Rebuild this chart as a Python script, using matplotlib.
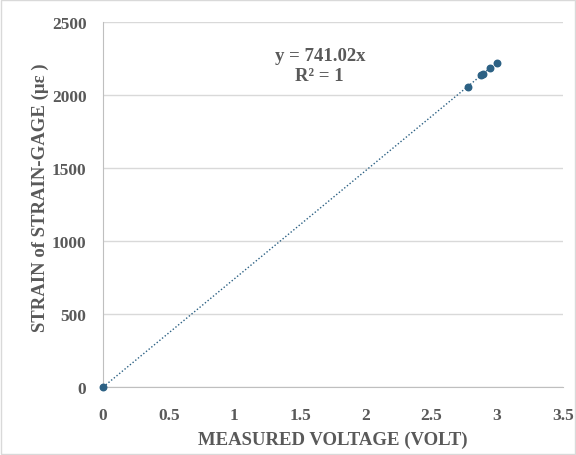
import matplotlib.pyplot as plt
import numpy as np

# Datos
voltage = [0.0, 2.775, 2.881, 2.893, 2.945, 2.996]
slope = 741.02
strain = [round(slope * v, 1) for v in voltage]

x_ticks = [0, 0.5, 1, 1.5, 2, 2.5, 3, 3.5]
x_labels = ["0", "0.5", "1", "1.5", "2", "2.5", "3", "3.5"]
y_ticks = [0, 500, 1000, 1500, 2000, 2500]

plt.rcParams['font.family'] = ['Liberation Serif', 'DejaVu Serif']
txt = "#595959"
col = "#2C6184"

fig = plt.figure(figsize=(5.76, 4.56), dpi=100)
ax = fig.add_axes([0.179, 0.149, 0.798, 0.801])

# línea de tendencia
xt = np.array([0, max(voltage)])
ax.plot(xt, slope * xt, linestyle=(0, (1, 1.5)), color=col, linewidth=1.0, zorder=2)
ax.scatter(voltage, strain, s=22, color=col, zorder=3, clip_on=False)

ax.set_xlim(0, 3.5)
ax.set_ylim(0, 2500)
ax.set_xticks(x_ticks)
ax.set_xticklabels(x_labels)
ax.set_yticks(y_ticks)
ax.grid(axis="y", color="#d9d9d9", linewidth=1)
ax.set_axisbelow(True)
for s in ["top", "right"]:
    ax.spines[s].set_visible(False)
for s in ["left", "bottom"]:
    ax.spines[s].set_color("#bfbfbf")
ax.tick_params(length=0, labelsize=12.5, colors=txt)
ax.tick_params(axis="x", pad=14)
ax.tick_params(axis="y", pad=12)
for lab in ax.get_xticklabels() + ax.get_yticklabels():
    lab.set_fontweight("bold")

ax.set_xlabel("MEASURED VOLTAGE (VOLT)", fontsize=13.5, fontweight="bold", color=txt, labelpad=6)
ax.set_ylabel("STRAIN of STRAIN-GAGE (με )", fontsize=13.5, fontweight="bold", color=txt)
ax.yaxis.set_label_coords(-0.117, 0.52)

ax.text(1.65, 2200, "y = 741.02x\nR² = 1", ha="center", va="center",
        fontsize=13.5, fontweight="bold", color=txt, linespacing=1.2)

# borde del gráfico
fig.patches.append(plt.Rectangle((0.002, 0.002), 0.996, 0.996, transform=fig.transFigure,
                                 fill=False, edgecolor="#d9d9d9", linewidth=1))

fig.savefig("out.png", dpi=100)
